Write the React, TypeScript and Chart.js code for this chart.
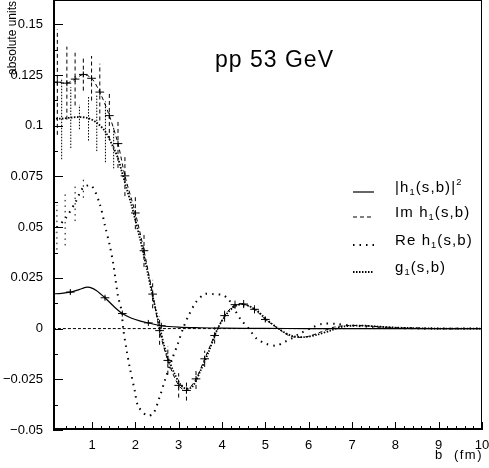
import React, { useEffect, useRef } from "react";
import { Chart, registerables } from "chart.js";
Chart.register(...registerables);

// ---------- data ----------
const hSqB = [0.1, 0.3, 0.5, 0.7, 0.85, 0.95, 1.1, 1.3, 1.5, 1.7, 1.9, 2.1, 2.3, 2.6, 3.0, 3.5, 4, 5, 6, 7, 8, 9, 10];
const hSqV = [0.0171, 0.0174, 0.018, 0.0192, 0.0203, 0.0203, 0.0188, 0.0152, 0.011, 0.0074, 0.0052, 0.0038, 0.0028, 0.0014, 0.0007, 0.0004, 0.0002, 0.0001, 0, 0, 0, 0, 0];
const hSqErr = [0, 0, 0.0008, 0, 0, 0, 0, 0.0008, 0, 0.0006, 0, 0, 0.0005, 0.0005, 0, 0, 0, 0, 0, 0, 0, 0, 0];

const imB = [0.1, 0.2, 0.42, 0.61, 0.8, 0.99, 1.18, 1.4, 1.6, 1.76, 2.0, 2.2, 2.4, 2.56, 2.75, 3.0, 3.18, 3.4, 3.6, 3.83, 4.06, 4.3, 4.5, 4.75, 5.0, 5.3, 5.5, 5.7, 6.0, 6.3, 6.6, 6.9, 7.3, 7.7, 8.2, 9, 10];
const imV = [0.1212, 0.1215, 0.121, 0.123, 0.1253, 0.1234, 0.1166, 0.105, 0.0912, 0.0753, 0.057, 0.0384, 0.017, -0.001, -0.0157, -0.028, -0.0305, -0.0248, -0.0149, -0.0034, 0.0064, 0.0118, 0.0121, 0.0095, 0.0045, 0.0, -0.003, -0.0043, -0.0038, -0.0015, 0.0008, 0.0015, 0.0014, 0.0008, 0.0003, 0, 0];
const imErr = [0, 0.026, 0.018, 0.013, 0.008, 0.011, 0.014, 0.012, 0.012, 0.010, 0.008, 0.008, 0.007, 0.007, 0.007, 0.006, 0.005, 0.005, 0.004, 0.004, 0.003, 0.002, 0.002, 0.002, 0.001, 0, 0, 0, 0, 0, 0, 0, 0, 0, 0, 0, 0];

const reB = [0.12, 0.19, 0.38, 0.61, 0.8, 0.99, 1.18, 1.3, 1.41, 1.49, 1.6, 1.68, 1.72, 1.8, 1.87, 1.99, 2.06, 2.26, 2.41, 2.56, 2.68, 2.85, 2.98, 3.1, 3.21, 3.4, 3.6, 3.79, 4.02, 4.15, 4.3, 4.45, 4.6, 4.8, 5.02, 5.25, 5.45, 5.6, 5.78, 6.09, 6.3, 6.62, 7.0, 7.5, 8, 9, 10];
const reV = [0.047, 0.0499, 0.054, 0.062, 0.0695, 0.0704, 0.0614, 0.0507, 0.041, 0.032, 0.016, 0.009, 0.0, -0.0108, -0.019, -0.031, -0.038, -0.0428, -0.042, -0.0338, -0.0256, -0.015, -0.0075, 0.0, 0.0056, 0.013, 0.017, 0.017, 0.0165, 0.0145, 0.009, 0.004, 0.0005, -0.005, -0.0075, -0.0084, -0.0065, -0.005, -0.0026, 0.0006, 0.0023, 0.0023, 0.0015, 0.0008, 0.0003, 0, 0];
const reErr = [0.010, 0.011, 0.013, 0.009, 0.005, 0, 0, 0, 0, 0, 0, 0, 0, 0, 0, 0, 0, 0, 0, 0, 0, 0, 0, 0, 0, 0, 0, 0, 0, 0, 0, 0, 0, 0, 0, 0, 0, 0, 0, 0, 0, 0, 0, 0, 0, 0, 0];

const g1B = [0.1, 0.3, 0.51, 0.71, 0.92, 1.11, 1.31, 1.5, 1.6, 1.68, 1.8, 1.91, 2.1, 2.26, 2.4, 2.55, 2.7, 2.9, 3.1, 3.3, 3.5, 3.7, 3.9, 4.1, 4.3, 4.5, 4.8, 5.0, 5.3, 5.6, 5.9, 6.2, 6.5, 6.8, 7.2, 7.6, 8, 9, 10];
const g1V = [0.1035, 0.1035, 0.104, 0.1043, 0.1037, 0.1015, 0.097, 0.089, 0.084, 0.078, 0.069, 0.061, 0.045, 0.030, 0.016, 0.002, -0.011, -0.022, -0.029, -0.029, -0.021, -0.011, 0.000, 0.007, 0.011, 0.012, 0.009, 0.005, 0.000, -0.0035, -0.0042, -0.003, -0.001, 0.001, 0.0015, 0.001, 0.0005, 0, 0];
const g1Err = [0.023, 0.020, 0.015, 0.006, 0.011, 0.014, 0.015, 0.010, 0, 0, 0, 0, 0, 0, 0, 0, 0, 0, 0, 0, 0, 0, 0, 0, 0, 0, 0, 0, 0, 0, 0, 0, 0, 0, 0, 0, 0, 0, 0];

const zeroB = [0.1, 10];
const zeroV = [0, 0];

const legendLabels = ["|h_1(s,b)|^2", "Im h_1(s,b)", "Re h_1(s,b)", "g_1(s,b)"];
const titleText = "pp 53 GeV";
const yTitle = "absolute units";
const xTitle = "b  (fm)";

const X_MIN = 0.1, X_MAX = 10, Y_MIN = -0.05, Y_MAX = 0.162;
const FONT = '"Liberation Sans", Arial, Helvetica, sans-serif';

const pts = (b: number[], v: number[]) => b.map((x, i) => ({ x, y: v[i] }));
const near = (v: number, s: number) => Math.abs(v / s - Math.round(v / s)) < 1e-6;

function drawRich(ctx: CanvasRenderingContext2D, text: string, x: number, y: number, size: number) {
  let cx = x;
  for (let i = 0; i < text.length; i++) {
    let ch = text[i];
    let dy = 0;
    let s = size;
    if (ch === "_") { ch = text[++i]; dy = size * 0.3; s = size * 0.62; }
    else if (ch === "^") { ch = text[++i]; dy = -size * 0.38; s = size * 0.62; }
    ctx.font = `${s}px ${FONT}`;
    ctx.fillText(ch, cx, y + dy);
    cx += ctx.measureText(ch).width + 0.6;
  }
}

const overlay = {
  id: "overlay",
  afterDatasetsDraw(chart: any) {
    const { ctx, chartArea: a, scales } = chart;
    const xs = scales.x, ys = scales.y;
    ctx.save();
    ctx.beginPath();
    ctx.rect(a.left, a.top, a.right - a.left, a.bottom - a.top);
    ctx.clip();
    ctx.strokeStyle = "#000";
    chart.data.datasets.forEach((ds: any) => {
      const err = ds.errY;
      if (!err) return;
      ds.data.forEach((p: any, i: number) => {
        const e = err[i];
        if (!e) return;
        const px = xs.getPixelForValue(p.x);
        const py = ys.getPixelForValue(p.y);
        ctx.lineWidth = 1;
        ctx.setLineDash(ds.errDash || []);
        ctx.beginPath();
        ctx.moveTo(px, ys.getPixelForValue(p.y - e));
        ctx.lineTo(px, ys.getPixelForValue(p.y + e));
        ctx.stroke();
        if (ds.crossHalf) {
          ctx.setLineDash([]);
          ctx.beginPath();
          ctx.moveTo(xs.getPixelForValue(p.x - ds.crossHalf), py);
          ctx.lineTo(xs.getPixelForValue(p.x + ds.crossHalf), py);
          ctx.moveTo(px, py - 3);
          ctx.lineTo(px, py + 3);
          ctx.stroke();
        }
      });
    });
    ctx.restore();
  },
  afterDraw(chart: any) {
    const { ctx, chartArea: a, scales } = chart;
    const xs = scales.x, ys = scales.y;
    ctx.save();
    ctx.strokeStyle = "#000";
    ctx.fillStyle = "#000";
    ctx.setLineDash([]);
    // frame
    ctx.lineWidth = 1;
    ctx.strokeRect(a.left + 0.5, a.top + 0.5, a.right - a.left - 1, a.bottom - a.top - 1);
    ctx.lineWidth = 2;
    ctx.beginPath();
    ctx.moveTo(a.left + 1, a.top);
    ctx.lineTo(a.left + 1, a.bottom - 1);
    ctx.lineTo(a.right, a.bottom - 1);
    ctx.stroke();
    // inward ticks
    ctx.lineWidth = 1;
    ctx.beginPath();
    ys.ticks.forEach((t: any) => {
      if (!near(t.value, 0.0125)) return;
      const len = near(t.value, 0.025) ? 10 : 5;
      const py = Math.round(ys.getPixelForValue(t.value)) + 0.5;
      ctx.moveTo(a.left, py);
      ctx.lineTo(a.left + len, py);
    });
    xs.ticks.forEach((t: any) => {
      if (!near(t.value, 0.2)) return;
      const len = near(t.value, 1) ? 8 : 4;
      const px = Math.round(xs.getPixelForValue(t.value)) + 0.5;
      ctx.moveTo(px, a.bottom);
      ctx.lineTo(px, a.bottom - len);
    });
    ctx.stroke();
    // title
    ctx.textBaseline = "middle";
    ctx.textAlign = "left";
    (ctx as any).letterSpacing = "1px";
    ctx.font = `23px ${FONT}`;
    ctx.fillText(titleText, 215, 61);
    // x title
    (ctx as any).letterSpacing = "1.5px";
    ctx.font = `13px ${FONT}`;
    ctx.textAlign = "right";
    ctx.fillText(xTitle, a.right + 1, 455);
    // y title
    ctx.save();
    (ctx as any).letterSpacing = "0px";
    ctx.translate(13, 38);
    ctx.rotate(-Math.PI / 2);
    ctx.textAlign = "center";
    ctx.font = `12px ${FONT}`;
    ctx.fillText(yTitle, 0, 0);
    ctx.restore();
    // legend
    (ctx as any).letterSpacing = "0.5px";
    const rows = [188, 213, 241, 268];
    chart.data.datasets.forEach((ds: any) => {
      if (ds.legendRow === undefined) return;
      const ry = rows[ds.legendRow];
      ctx.setLineDash(ds.borderDash || []);
      ctx.lineWidth = ds.borderWidth;
      ctx.beginPath();
      ctx.moveTo(353, ry + 4);
      ctx.lineTo(374, ry + 4);
      ctx.stroke();
      ctx.setLineDash([]);
      ctx.textAlign = "left";
      drawRich(ctx, ds.label, 395, ry, 15);
    });
    ctx.restore();
    (ctx as any).letterSpacing = "0px";
  },
};

export default function App() {
  const ref = useRef<HTMLCanvasElement>(null);
  useEffect(() => {
    document.body.style.margin = "0";
    const canvas = ref.current!;
    const chart = new Chart(canvas, {
      type: "line",
      data: {
        datasets: [
          { label: "zero", data: pts(zeroB, zeroV), borderColor: "#000", borderWidth: 1, borderDash: [3, 2], pointRadius: 0 } as any,
          { label: legendLabels[0], data: pts(hSqB, hSqV), borderColor: "#000", borderWidth: 1.2, pointRadius: 0, errY: hSqErr, crossHalf: 0.1, legendRow: 0 } as any,
          { label: legendLabels[1], data: pts(imB, imV), borderColor: "#000", borderWidth: 1, borderDash: [4, 3], pointRadius: 0, errY: imErr, errDash: [4, 3], crossHalf: 0.1, legendRow: 1 } as any,
          { label: legendLabels[2], data: pts(reB, reV), borderColor: "#000", borderWidth: 2, borderDash: [1.5, 5], pointRadius: 0, errY: reErr, errDash: [1.5, 4], legendRow: 2 } as any,
          { label: legendLabels[3], data: pts(g1B, g1V), borderColor: "#000", borderWidth: 1.8, borderDash: [1.5, 1.5], pointRadius: 0, errY: g1Err, errDash: [1.5, 1.5], legendRow: 3 } as any,
        ],
      },
      options: {
        animation: false,
        responsive: false,
        devicePixelRatio: 1,
        layout: { padding: { top: 0, right: 7, bottom: 0, left: 0 } },
        plugins: { legend: { display: false }, tooltip: { enabled: false } },
        elements: { line: { tension: 0.3 }, point: { radius: 0 } },
        scales: {
          x: {
            type: "linear",
            min: X_MIN,
            max: X_MAX,
            grid: { display: false, drawTicks: false },
            border: { display: false },
            ticks: {
              stepSize: 0.2,
              autoSkip: false,
              maxRotation: 0,
              padding: 8,
              color: "#000",
              font: { family: FONT, size: 13 },
              callback: (v: any) => (near(Number(v), 1) ? String(Math.round(Number(v))) : ""),
            },
            afterFit: (s: any) => { s.height = 38; s.paddingLeft = 0; s.paddingRight = 0; },
          },
          y: {
            type: "linear",
            min: Y_MIN,
            max: Y_MAX,
            grid: { display: false, drawTicks: false },
            border: { display: false },
            ticks: {
              stepSize: 0.0125,
              autoSkip: false,
              padding: 10,
              color: "#000",
              font: { family: FONT, size: 13 },
              callback: (v: any) => {
                const n = Number(v);
                if (!near(n, 0.025)) return "";
                const r = Math.round(n / 0.025) * 0.025;
                if (Math.abs(r) < 1e-9) return "0";
                return String(+r.toFixed(3)).replace("-", "\u2212");
              },
            },
            afterFit: (s: any) => { s.width = 53; s.paddingTop = 0; s.paddingBottom = 0; },
          },
        },
      },
      plugins: [overlay],
    } as any);
    return () => chart.destroy();
  }, []);
  return <canvas ref={ref} width={489} height={468} style={{ display: "block" }} />;
}
